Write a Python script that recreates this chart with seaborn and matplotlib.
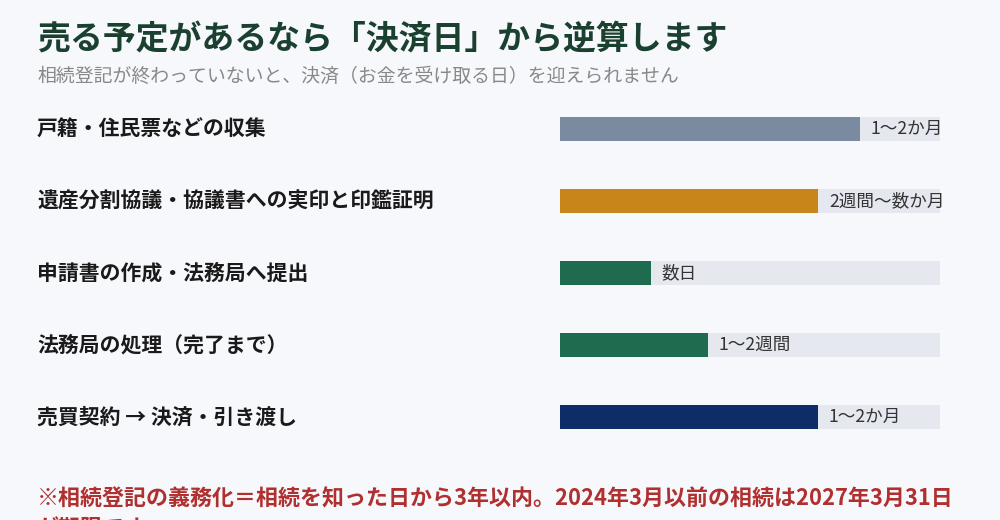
import matplotlib
matplotlib.use("Agg")
import matplotlib.pyplot as plt
import matplotlib.transforms as mtransforms
import seaborn as sns

steps = [
    "戸籍・住民票などの収集",
    "遺産分割協議・協議書への実印と印鑑証明",
    "申請書の作成・法務局へ提出",
    "法務局の処理（完了まで）",
    "売買契約 → 決済・引き渡し",
]
durations = [79, 68, 24, 39, 68]
duration_labels = ["1〜2か月", "2週間〜数か月", "数日", "1〜2週間", "1〜2か月"]
track_max = [100, 100, 100, 100, 100]
bar_colors = ["#7a8aa0", "#c8861a", "#1e6b4f", "#1e6b4f", "#0d2d69"]

bg = "#f7f8fc"
sns.set_style("white")
plt.rcParams["font.family"] = ["Noto Sans CJK JP", "DejaVu Sans"]

fig = plt.figure(figsize=(10, 5.2), dpi=100, facecolor=bg)
ax = fig.add_axes([0.56, (520 - 453) / 520, 0.38, 360 / 520])
ax.set_facecolor(bg)

# grey tracks behind the bars
sns.barplot(x=track_max, y=steps, color="#e6e8f0", width=0.333, ax=ax,
            saturation=1, linewidth=0)
sns.barplot(x=durations, y=steps, hue=steps, palette=bar_colors,
            width=0.333, ax=ax, legend=False, saturation=1, linewidth=0)

ax.set_xlim(0, 100)
ax.set_xlabel("")
ax.set_ylabel("")
ax.set_xticks([])
ax.set_yticks([])
sns.despine(ax=ax, left=True, bottom=True)

for i, (v, lab) in enumerate(zip(durations, duration_labels)):
    ax.annotate(lab, xy=(v, i), xytext=(7.5, 0), textcoords="offset points",
                va="center", ha="left", fontsize=12.7, color="#333333")

trans = mtransforms.blended_transform_factory(fig.transFigure, ax.transData)
for i, s in enumerate(steps):
    ax.text(37 / 1000, i, s, transform=trans, ha="left", va="center",
            fontsize=15, fontweight="bold", color="#1a1a1a")

fig.text(37 / 1000, 1 - 40 / 520, "売る予定があるなら「決済日」から逆算します",
         ha="left", va="center", fontsize=23.7, fontweight="bold", color="#1a4030")
fig.text(37 / 1000, 1 - 76 / 520,
         "相続登記が終わっていないと、決済（お金を受け取る日）を迎えられません",
         ha="left", va="center", fontsize=13.6, color="#888888")
fig.text(37 / 1000, 1 - 487 / 520,
         "※相続登記の義務化＝相続を知った日から3年以内。2024年3月以前の相続は2027年3月31日\nが期限です",
         ha="left", va="top", fontsize=15.8, fontweight="bold", color="#b0302f",
         linespacing=1.4)

fig.savefig("out.png", dpi=100, facecolor=bg)
